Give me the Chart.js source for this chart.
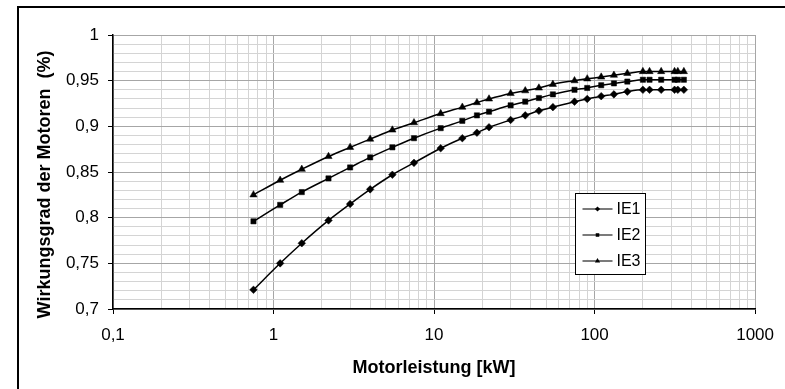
<!DOCTYPE html>
<html lang="de">
<head>
  <meta charset="UTF-8" />
  <title>Wirkungsgrad der Motoren</title>
  <script src="https://cdn.jsdelivr.net/npm/chart.js"></script>
  <style>
    body { margin: 0; background: #fff; }
    #frame { position: absolute; left: 17px; top: 6px; width: 820px; height: 420px; border: 2px solid #000; }
    #chart { position: absolute; left: 0; top: 0; }
  </style>
</head>
<body>
  <div id="frame"></div>
  <canvas id="chart" width="785" height="389"></canvas>

  <script>
    // Motorleistung in kW
    const power = [0.75, 1.1, 1.5, 2.2, 3, 4, 5.5, 7.5, 11, 15, 18.5, 22, 30, 37, 45, 55, 75, 90, 110, 132, 160, 200, 220, 260, 315, 330, 360];
    const ie1 = [0.721, 0.750, 0.772, 0.797, 0.815, 0.831, 0.847, 0.860, 0.876, 0.887, 0.893, 0.899, 0.907, 0.912, 0.917, 0.921, 0.927, 0.930, 0.933, 0.935, 0.938, 0.940, 0.940, 0.940, 0.940, 0.940, 0.940];
    const ie2 = [0.796, 0.814, 0.828, 0.843, 0.855, 0.866, 0.877, 0.887, 0.898, 0.906, 0.912, 0.916, 0.923, 0.927, 0.931, 0.935, 0.940, 0.942, 0.945, 0.947, 0.949, 0.951, 0.951, 0.951, 0.951, 0.951, 0.951];
    const ie3 = [0.825, 0.841, 0.853, 0.867, 0.877, 0.886, 0.896, 0.904, 0.914, 0.921, 0.926, 0.930, 0.936, 0.939, 0.942, 0.946, 0.950, 0.952, 0.954, 0.956, 0.958, 0.960, 0.960, 0.960, 0.960, 0.960, 0.960];
    const seriesNames = ['IE1', 'IE2', 'IE3'];
    const seriesValues = [ie1, ie2, ie3];

    const xDecades = [0.1, 1, 10, 100, 1000];
    const xTickLabels = ['0,1', '1', '10', '100', '1000'];
    const yTickValues = [0.7, 0.75, 0.8, 0.85, 0.9, 0.95, 1];
    const yTickLabels = ['0,7', '0,75', '0,8', '0,85', '0,9', '0,95', '1'];

    const markers = [
      { pointStyle: 'rectRot', radius: 3.8 },
      { pointStyle: 'rect', radius: 3.7 },
      { pointStyle: 'triangle', radius: 4.2 }
    ];

    const majorGrid = '#a6a6a6';
    const minorGrid = '#d4d4d4';

    function xIndex(v) {
      return xDecades.findIndex(d => Math.abs(d - v) < d * 1e-6);
    }
    function yIndex(v) {
      return yTickValues.findIndex(t => Math.abs(t - v) < 1e-6);
    }

    // Legende als Kasten im Diagramm
    const boxLegend = {
      id: 'boxLegend',
      afterDraw(chart) {
        const ctx = chart.ctx;
        const area = chart.chartArea;
        const left = Math.round(area.right - 180) + 0.5;
        const top = Math.round(area.top + 158) + 0.5;
        ctx.save();
        ctx.fillStyle = '#fff';
        ctx.fillRect(left, top, 70, 81);
        ctx.strokeStyle = '#000';
        ctx.lineWidth = 1;
        ctx.strokeRect(left, top, 70, 81);
        seriesNames.forEach((name, i) => {
          const y = top + 15.5 + i * 26;
          ctx.strokeStyle = '#333';
          ctx.lineWidth = 1.3;
          ctx.beginPath();
          ctx.moveTo(left + 7, y);
          ctx.lineTo(left + 37, y);
          ctx.stroke();
          ctx.fillStyle = '#000';
          ctx.strokeStyle = '#000';
          Chart.helpers.drawPoint(ctx, { pointStyle: markers[i].pointStyle, radius: markers[i].radius - 1.2, rotation: 0, borderWidth: 0 }, left + 22, y);
          ctx.fillStyle = '#000';
          ctx.font = '16px "Liberation Sans", Arial, sans-serif';
          ctx.textBaseline = 'middle';
          ctx.fillText(name, left + 41, y + 1);
        });
        ctx.restore();
      }
    };

    const datasets = seriesNames.map((name, i) => ({
      label: name,
      data: power.map((p, j) => ({ x: p, y: seriesValues[i][j] })),
      borderColor: '#000',
      backgroundColor: '#000',
      borderWidth: 1.5,
      pointStyle: markers[i].pointStyle,
      pointRadius: markers[i].radius,
      pointBorderWidth: 0.5,
      cubicInterpolationMode: 'monotone'
    }));

    Chart.defaults.font.family = '"Liberation Sans", Arial, sans-serif';
    Chart.defaults.color = '#000';

    const ctx = document.getElementById('chart').getContext('2d');
    const chart = new Chart(ctx, {
      type: 'line',
      data: { datasets: datasets },
      options: {
        responsive: false,
        animation: false,
        devicePixelRatio: 1,
        layout: { padding: { left: 0, top: 35, right: 21, bottom: 0 } },
        plugins: {
          legend: { display: false },
          tooltip: { enabled: false }
        },
        scales: {
          x: {
            type: 'logarithmic',
            min: 0.1,
            max: 1000,
            afterBuildTicks: scale => {
              const ticks = [];
              xDecades.slice(0, -1).forEach(d => {
                for (let m = 1; m < 10; m++) ticks.push({ value: m * d });
              });
              ticks.push({ value: 1000 });
              scale.ticks = ticks;
            },
            afterFit: scale => { scale.height = 80; },
            grid: {
              color: c => xIndex(c.tick.value) >= 0 ? majorGrid : minorGrid,
              tickColor: c => xIndex(c.tick.value) >= 0 ? '#000' : 'rgba(0,0,0,0)',
              tickLength: 5
            },
            border: { color: '#000', width: 1.5 },
            ticks: {
              autoSkip: false,
              maxTicksLimit: 100,
              maxRotation: 0,
              padding: 11,
              font: { size: 17 },
              callback: v => { const k = xIndex(v); return k >= 0 ? xTickLabels[k] : ''; }
            },
            title: {
              display: true,
              text: 'Motorleistung [kW]',
              font: { size: 18, weight: 'bold' },
              padding: { top: 0, bottom: 10 }
            }
          },
          y: {
            min: 0.7,
            max: 1,
            afterFit: scale => { scale.width = 113; },
            grid: {
              color: c => yIndex(c.tick.value) >= 0 ? majorGrid : minorGrid,
              tickColor: c => yIndex(c.tick.value) >= 0 ? '#000' : 'rgba(0,0,0,0)',
              tickLength: 5
            },
            border: { color: '#000', width: 1.5 },
            ticks: {
              stepSize: 0.01,
              maxTicksLimit: 100,
              autoSkip: false,
              padding: 9,
              font: { size: 17 },
              callback: v => { const k = yIndex(v); return k >= 0 ? yTickLabels[k] : ''; }
            },
            title: {
              display: true,
              text: 'Wirkungsgrad der Motoren  (%)     ',
              font: { size: 18, weight: 'bold' },
              padding: { top: 34, bottom: 0 }
            }
          }
        }
      },
      plugins: [boxLegend]
    });
  </script>
</body>
</html>
